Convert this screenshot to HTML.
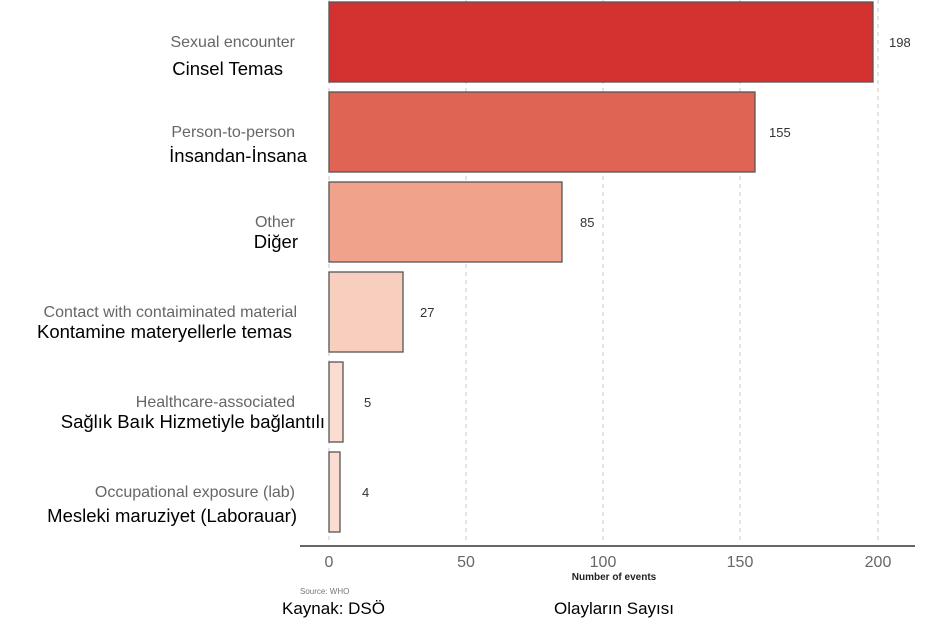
<!DOCTYPE html>
<html><head><meta charset="utf-8"><style>
body{margin:0;background:#fff}
svg{display:block}
text{font-family:"Liberation Sans",sans-serif}
.g{fill:#666;font-size:16px}
.b{fill:#000;font-size:18.5px}
.v{fill:#333;font-size:13px}
.t{fill:#666;font-size:16px}
</style></head><body>
<svg width="945" height="619" viewBox="0 0 945 619">
<g stroke="#d0d0d0" stroke-width="1.2" stroke-dasharray="4,4">
<line x1="329" y1="0" x2="329" y2="540"/>
<line x1="466" y1="0" x2="466" y2="540"/>
<line x1="603" y1="0" x2="603" y2="540"/>
<line x1="740" y1="0" x2="740" y2="540"/>
<line x1="878" y1="0" x2="878" y2="540"/>
</g>
<g stroke="#555" stroke-width="1.3">
<rect x="329" y="2" width="544" height="80" fill="#d43131"/>
<rect x="329" y="92" width="426" height="80" fill="#e06453"/>
<rect x="329" y="182" width="233" height="80" fill="#f0a28b"/>
<rect x="329" y="272" width="74" height="80" fill="#f8cfbf"/>
<rect x="329" y="362" width="14" height="80" fill="#fbdcd1"/>
<rect x="329" y="452" width="11" height="80" fill="#fbdcd1"/>
</g>
<g class="v">
<text x="889" y="47">198</text>
<text x="769" y="137">155</text>
<text x="580" y="227">85</text>
<text x="420" y="317">27</text>
<text x="364" y="407">5</text>
<text x="362" y="497">4</text>
</g>
<line x1="300" y1="546" x2="915" y2="546" stroke="#666" stroke-width="2"/>
<g class="t" text-anchor="middle">
<text x="329" y="567">0</text><text x="466" y="567">50</text><text x="603" y="567">100</text><text x="740" y="567">150</text><text x="878" y="567">200</text>
</g>
<text x="614" y="580" text-anchor="middle" style="font-size:10px;font-weight:bold;fill:#222">Number of events</text>
<text x="300" y="594" style="font-size:8px;fill:#777">Source: WHO</text>
<text x="282" y="614" class="b" style="font-size:17px">Kaynak: DSÖ</text>
<text x="554" y="614" class="b" style="font-size:17px">Olayların Sayısı</text>
<g text-anchor="end">
<text x="295" y="47" class="g">Sexual encounter</text>
<text x="283" y="75" class="b">Cinsel Temas</text>
<text x="295" y="137" class="g">Person-to-person</text>
<text x="307" y="162" class="b">İnsandan-İnsana</text>
<text x="295" y="227" class="g">Other</text>
<text x="298" y="248" class="b">Diğer</text>
<text x="297" y="317" class="g">Contact with contaiminated material</text>
<text x="292" y="338" class="b">Kontamine materyellerle temas</text>
<text x="295" y="407" class="g">Healthcare-associated</text>
<text x="325" y="428" class="b">Sağlık Baık Hizmetiyle bağlantılı</text>
<text x="295" y="497" class="g">Occupational exposure (lab)</text>
<text x="297" y="522" class="b">Mesleki maruziyet (Laborauar)</text>
</g>
</svg>
</body></html>
